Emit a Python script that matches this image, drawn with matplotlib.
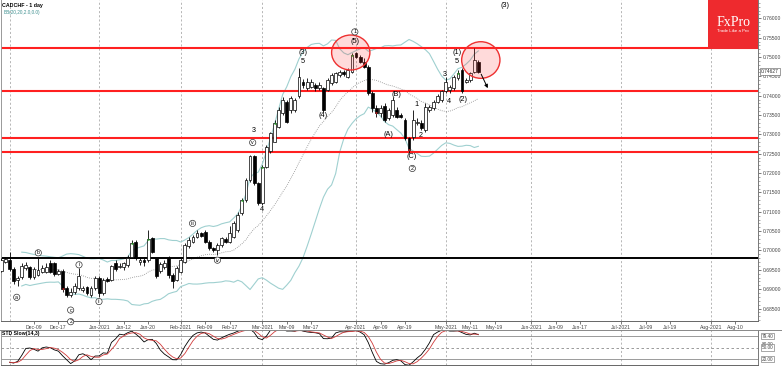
import numpy as np
import pandas as pd
import matplotlib
matplotlib.use("Agg")
import matplotlib.pyplot as plt
from matplotlib.patches import Ellipse, Rectangle
from matplotlib.lines import Line2D

plt.rcParams["font.family"] = ["Liberation Sans", "DejaVu Sans"]

# ---------------- data (daily CADCHF candles, bar index = trading day) ----------------
opens = [
    0.6948, 0.6971, 0.6976, 0.6951, 0.6924, 0.6931, 0.6954, 0.6957, 0.6931, 0.6937,
    0.6945, 0.6945, 0.6967, 0.6967, 0.6939, 0.6948, 0.6902, 0.6885, 0.6894, 0.6902,
    0.6898, 0.6905, 0.6885, 0.6902, 0.6928, 0.6890, 0.6926, 0.6924, 0.6967, 0.6957,
    0.6957, 0.6963, 0.6983, 0.7023, 0.6971, 0.6976, 0.6976, 0.7032, 0.6980, 0.6948,
    0.6957, 0.6980, 0.6937, 0.6924, 0.6945, 0.6971, 0.7012, 0.7023, 0.7034, 0.7044,
    0.7049, 0.7023, 0.7006, 0.7000, 0.7014, 0.7029, 0.7023, 0.7036, 0.7053, 0.7096,
    0.7131, 0.7182, 0.7243, 0.7174, 0.7122, 0.7217, 0.7256, 0.7281, 0.7320, 0.7355,
    0.7385, 0.7363, 0.7363, 0.7398, 0.7436, 0.7419, 0.7423, 0.7428, 0.7419, 0.7419,
    0.7415, 0.7432, 0.7436, 0.7454, 0.7462, 0.7449, 0.7462, 0.7510, 0.7501, 0.7488,
    0.7475, 0.7406, 0.7367, 0.7355, 0.7374, 0.7342, 0.7350, 0.7363, 0.7350, 0.7337,
    0.7290, 0.7294, 0.7329, 0.7329, 0.7312, 0.7363, 0.7367, 0.7385, 0.7389, 0.7411,
    0.7415, 0.7419, 0.7445, 0.7466, 0.7436, 0.7441, 0.7462, 0.7488]
highs = [
    0.6980, 0.6984, 0.6997, 0.6957, 0.6933, 0.6967, 0.6971, 0.6960, 0.6957, 0.6983,
    0.6963, 0.6967, 0.6976, 0.6971, 0.6951, 0.6951, 0.6907, 0.6902, 0.6915, 0.6954,
    0.6907, 0.6908, 0.6907, 0.6933, 0.6934, 0.6928, 0.6931, 0.6963, 0.6976, 0.6967,
    0.6971, 0.6989, 0.7027, 0.7027, 0.6980, 0.6983, 0.7053, 0.7036, 0.6984, 0.6971,
    0.6976, 0.6986, 0.6941, 0.6960, 0.6980, 0.7019, 0.7034, 0.7040, 0.7053, 0.7049,
    0.7053, 0.7027, 0.7010, 0.7019, 0.7036, 0.7034, 0.7062, 0.7075, 0.7100, 0.7135,
    0.7187, 0.7247, 0.7247, 0.7178, 0.7221, 0.7273, 0.7307, 0.7337, 0.7370, 0.7396,
    0.7389, 0.7399, 0.7393, 0.7471, 0.7442, 0.7445, 0.7442, 0.7434, 0.7436, 0.7423,
    0.7445, 0.7458, 0.7462, 0.7466, 0.7466, 0.7471, 0.7511, 0.7514, 0.7505, 0.7497,
    0.7479, 0.7411, 0.7376, 0.7376, 0.7380, 0.7367, 0.7396, 0.7372, 0.7355, 0.7342,
    0.7294, 0.7363, 0.7342, 0.7337, 0.7380, 0.7376, 0.7389, 0.7405, 0.7415, 0.7448,
    0.7428, 0.7454, 0.7466, 0.7471, 0.7445, 0.7462, 0.7522, 0.7492]
lows = [
    0.6945, 0.6967, 0.6948, 0.6914, 0.6908, 0.6927, 0.6950, 0.6927, 0.6926, 0.6933,
    0.6941, 0.6941, 0.6943, 0.6934, 0.6937, 0.6894, 0.6881, 0.6879, 0.6888, 0.6898,
    0.6894, 0.6885, 0.6881, 0.6898, 0.6881, 0.6885, 0.6919, 0.6920, 0.6948, 0.6954,
    0.6950, 0.6958, 0.6980, 0.6976, 0.6963, 0.6960, 0.6971, 0.6993, 0.6928, 0.6941,
    0.6951, 0.6928, 0.6902, 0.6920, 0.6941, 0.6967, 0.7006, 0.7019, 0.7032, 0.7034,
    0.7019, 0.7001, 0.6997, 0.6989, 0.7010, 0.7019, 0.7020, 0.7032, 0.7049, 0.7092,
    0.7126, 0.7178, 0.7169, 0.7118, 0.7118, 0.7213, 0.7251, 0.7281, 0.7316, 0.7350,
    0.7329, 0.7355, 0.7359, 0.7393, 0.7419, 0.7415, 0.7419, 0.7413, 0.7415, 0.7359,
    0.7411, 0.7428, 0.7432, 0.7449, 0.7451, 0.7445, 0.7458, 0.7497, 0.7484, 0.7471,
    0.7402, 0.7359, 0.7346, 0.7346, 0.7333, 0.7337, 0.7346, 0.7342, 0.7342, 0.7286,
    0.7253, 0.7286, 0.7324, 0.7312, 0.7307, 0.7359, 0.7363, 0.7380, 0.7385, 0.7406,
    0.7408, 0.7415, 0.7441, 0.7406, 0.7432, 0.7436, 0.7458, 0.7458]
closes = [
    0.6976, 0.6977, 0.6951, 0.6920, 0.6928, 0.6960, 0.6963, 0.6931, 0.6951, 0.6950,
    0.6954, 0.6957, 0.6945, 0.6939, 0.6948, 0.6900, 0.6885, 0.6894, 0.6907, 0.6933,
    0.6902, 0.6890, 0.6902, 0.6928, 0.6890, 0.6924, 0.6922, 0.6960, 0.6951, 0.6960,
    0.6967, 0.6980, 0.7020, 0.6980, 0.6976, 0.6969, 0.7029, 0.6997, 0.6933, 0.6965,
    0.6967, 0.6937, 0.6920, 0.6954, 0.6976, 0.7014, 0.7027, 0.7034, 0.7044, 0.7037,
    0.7023, 0.7006, 0.7000, 0.7014, 0.7032, 0.7023, 0.7044, 0.7070, 0.7092, 0.7131,
    0.7182, 0.7243, 0.7174, 0.7122, 0.7217, 0.7268, 0.7303, 0.7329, 0.7363, 0.7389,
    0.7333, 0.7393, 0.7389, 0.7449, 0.7428, 0.7436, 0.7436, 0.7419, 0.7428, 0.7363,
    0.7441, 0.7454, 0.7458, 0.7462, 0.7456, 0.7466, 0.7505, 0.7501, 0.7488, 0.7475,
    0.7406, 0.7367, 0.7355, 0.7367, 0.7337, 0.7363, 0.7389, 0.7346, 0.7346, 0.7290,
    0.7260, 0.7337, 0.7333, 0.7316, 0.7372, 0.7372, 0.7385, 0.7398, 0.7411, 0.7436,
    0.7423, 0.7449, 0.7458, 0.7411, 0.7441, 0.7458, 0.7492, 0.7462]

start_date = "2020-11-27"
holidays = ["2020-12-25", "2021-01-01"]
tick_dates = ["2020-12-09", "2020-12-17", "2021-01-04", "2021-01-12", "2021-01-20",
              "2021-02-01", "2021-02-09", "2021-02-17", "2021-03-01", "2021-03-09",
              "2021-03-17", "2021-04-01", "2021-04-09", "2021-04-19", "2021-05-03",
              "2021-05-11", "2021-05-19", "2021-06-01", "2021-06-09", "2021-06-17",
              "2021-07-01", "2021-07-09", "2021-07-19", "2021-08-02", "2021-08-10"]
tick_labels = ["Dec-09", "Dec-17", "Jan-2021", "Jan-12", "Jan-20", "Feb-2021", "Feb-09",
               "Feb-17", "Mar-2021", "Mar-09", "Mar-17", "Apr-2021", "Apr-09", "Apr-19",
               "May-2021", "May-11", "May-19", "Jun-2021", "Jun-09", "Jun-17", "Jul-2021",
               "Jul-09", "Jul-19", "Aug-2021", "Aug-10"]
month_dates = ["2020-12-01", "2021-01-04", "2021-02-01", "2021-03-01", "2021-04-01",
               "2021-05-03", "2021-06-01", "2021-07-01", "2021-08-02"]

red_levels = [0.7524, 0.7411, 0.7291, 0.7255]
black_level = 0.6980
last_price_label = "0.74627"
stoch_levels = [20, 50, 80]
stoch_last_label = "79.40"
buy_marks = [32, 36, 59, 64, 67, 86, 112]
sell_marks = [15, 92, 100]

# wave labels: (text, bar index, price)
wave_labels = [("3", 61.8, 0.7311), ("4", 63.9, 0.7105), ("(3)", 73.9, 0.7511),
               ("5", 73.9, 0.7488), ("(4)", 79.0, 0.7348), ("(5)", 86.7, 0.7540),
               ("(B)", 97.0, 0.7402), ("(A)", 94.9, 0.7301), ("1", 101.9, 0.7376),
               ("2", 102.9, 0.7296), ("(C)", 100.65, 0.7242), ("3", 108.8, 0.7455),
               ("4", 109.8, 0.7384), ("(1)", 111.8, 0.7512), ("5", 111.8, 0.7488),
               ("(2)", 113.2, 0.7389), ("(3)", 123.5, 0.7634)]
circled_labels = [("a", 3.77, 0.6879), ("b", 9.06, 0.6994), ("c", 17.0, 0.6846),
                  ("2", 17.0, 0.6816), ("i", 19.05, 0.6963), ("ii", 23.95, 0.6868),
                  ("iii", 46.9, 0.7070), ("iv", 53.0, 0.6975), ("v", 61.65, 0.7279),
                  ("1", 86.7, 0.7565), ("2", 100.8, 0.7212)]

# ---------------- derived positions ----------------
dates = pd.bdate_range(start_date, "2021-09-30")
dates = dates[~dates.isin(pd.to_datetime(holidays))]
pos_of = {d: i for i, d in enumerate(dates)}
tick_pos = [pos_of[pd.Timestamp(d)] for d in tick_dates]
month_pos = [pos_of[pd.Timestamp(d)] for d in month_dates]

o = np.array(opens); h = np.array(highs); l = np.array(lows); c = np.array(closes)
x = np.arange(len(c))
cs = pd.Series(c)
mid = cs.rolling(20, min_periods=6).mean()
sd = cs.rolling(20, min_periods=6).std(ddof=0)
upper = mid + 2 * sd
lower = mid - 2 * sd
hh = pd.Series(h).rolling(14, min_periods=3).max()
ll = pd.Series(l).rolling(14, min_periods=3).min()
fastk = 100 * (cs - ll) / (hh - ll)
slowk = fastk.rolling(3, min_periods=1).mean()
slowd = slowk.rolling(3, min_periods=1).mean()

# ---------------- figure ----------------
W, H = 782, 366
fig = plt.figure(figsize=(W / 100, H / 100), dpi=100)
fig.patch.set_facecolor("white")

def fx(px):
    return px / W

def fy(py):
    return 1 - py / H

ax = fig.add_axes([fx(1), fy(321), fx(757), 321 / H])
ax2 = fig.add_axes([fx(1), fy(365), fx(757), 35 / H])

ymax_main, ymin_main = 0.76473, 0.68178
ax.set_xlim(-0.085, 185.59)
ax.set_ylim(ymin_main, ymax_main)
ax2.set_xlim(-0.085, 185.59)
ax2.set_ylim(4.35, 95.65)

for a in (ax, ax2):
    for p in month_pos:
        a.axvline(p, color="#9a9a9a", lw=0.5, ls=(0, (3, 3)), zorder=0)
    a.spines["top"].set_visible(False)
    a.spines["left"].set_color("#999999")
    a.spines["right"].set_color("#777777")
    a.spines["bottom"].set_color("#666666")
    for s in a.spines.values():
        s.set_linewidth(0.7)

# bollinger bands
ax.plot(x, upper, color="#9fd0d0", lw=0.8, zorder=1)
ax.plot(x, lower, color="#9fd0d0", lw=0.8, zorder=1)
ax.plot(x, mid, color="#8a8a8a", lw=0.6, ls=(0, (1, 1.5)), zorder=1)

# levels
for lv in red_levels:
    ax.axhline(lv, color="#ff2020", lw=1.5, zorder=2)
ax.axhline(black_level, color="black", lw=1.4, zorder=2)

# candles
hi = np.maximum(h, np.maximum(o, c))
lo = np.minimum(l, np.minimum(o, c))
ax.vlines(x, lo, hi, color="black", lw=0.6, zorder=3)
body_bottom = np.minimum(o, c)
body_h = np.maximum(np.abs(c - o), 0.00006)
colors = ["white" if cc >= oo else "black" for oo, cc in zip(o, c)]
ax.bar(x, body_h, bottom=body_bottom, width=0.7, color=colors,
       edgecolor="black", linewidth=0.5, zorder=4)
ax.scatter(buy_marks, c[buy_marks], marker="^", s=3, color="#1fa01f", zorder=5, linewidths=0)
ax.scatter(sell_marks, c[sell_marks], marker="v", s=3, color="#cc2222", zorder=5, linewidths=0)

# circles
ax.add_patch(Ellipse((85.7, 0.75116), width=9.39, height=0.00904,
                     facecolor=(1, 0.2, 0.2, 0.18), edgecolor="#ee3030", lw=1.0, zorder=6))
ax.add_patch(Ellipse((117.6, 0.74922), width=9.39, height=0.00946,
                     facecolor=(1, 0.2, 0.2, 0.18), edgecolor="#ee3030", lw=1.0, zorder=6))
ax.annotate("", xy=(119.6, 0.7413), xytext=(117.4, 0.7462),
            arrowprops=dict(arrowstyle="-|>", color="black", lw=0.7, mutation_scale=5),
            zorder=7)

# wave labels
for t, xi, yi in wave_labels:
    ax.text(xi, yi, t, fontsize=5.2, ha="center", va="center", color="black", zorder=8)
for t, xi, yi in circled_labels:
    ax.text(xi, yi, t, fontsize=3.8, ha="center", va="center", color="black", zorder=8,
            bbox=dict(boxstyle="circle,pad=0.12", fc="white", ec="#333333", lw=0.5))

# axes ticks
ax.yaxis.tick_right()
yt = np.arange(0.685, 0.76001, 0.005)
ax.set_yticks(yt)
ax.set_yticklabels([f"{v:.5f}" for v in yt])
ax.set_yticks(np.arange(0.682, 0.7646, 0.001), minor=True)
ax.tick_params(axis="y", which="major", labelsize=3.6, length=2.5, width=0.5, pad=1,
               colors="#444444")
ax.tick_params(axis="y", which="minor", length=1.2, width=0.4, colors="#666666")
ax.set_xticks(tick_pos)
ax.set_xticklabels(tick_labels)
ax.tick_params(axis="x", labelsize=3.7, length=2, width=0.5, pad=0.8, colors="#444444")

ax2.set_xticks([])
ax2.set_yticks([])
ax2.axhline(80, color="#8a8a8a", lw=0.6)
ax2.axhline(50, color="#8a8a8a", lw=0.6, ls=(0, (3, 3)))
ax2.axhline(20, color="#8a8a8a", lw=0.6)
ax2.plot(x, slowk, color="black", lw=0.6)
ax2.plot(x, slowd, color="#d03a3a", lw=0.6)

# right side labels in lower panel
lab = dict(fontsize=3.4, color="#444444", ha="left", va="center", zorder=10,
           transform=ax2.get_yaxis_transform())
ax2.text(1.005, 59.1, "80.00", clip_on=False, **lab)
ax2.text(1.005, 50, "50.00", clip_on=False,
         bbox=dict(boxstyle="square,pad=0.15", fc="white", ec="#666666", lw=0.4), **lab)
ax2.text(1.005, 79.4, stoch_last_label, clip_on=False,
         bbox=dict(boxstyle="square,pad=0.15", fc="white", ec="#666666", lw=0.4), **lab)
ax2.text(1.005, 20, "20.00", clip_on=False,
         bbox=dict(boxstyle="square,pad=0.15", fc="white", ec="#666666", lw=0.4), **lab)

ax.text(1.004, float(last_price_label), last_price_label, fontsize=3.5, color="#333333",
        ha="left", va="center", transform=ax.get_yaxis_transform(), clip_on=False, zorder=10,
        bbox=dict(boxstyle="square,pad=0.15", fc="white", ec="#555555", lw=0.4))

# panel separator line across the full width
fig.add_artist(Line2D([0, 1], [fy(329.5), fy(329.5)], color="#888888", lw=0.7))

# titles
fig.text(fx(2), fy(5), "CADCHF - 1 day", fontsize=3.8, fontweight="bold", color="black",
         ha="left", va="center")
fig.text(fx(4), fy(12.7), "BB(20,20,2.0,0.0)", fontsize=3.4, color="#3d8f8f",
         ha="left", va="center")
fig.text(fx(2), fy(334), "STD Slow(14,3)", fontsize=3.7, fontweight="bold", color="black",
         ha="left", va="center")

# logo
fig.add_artist(Rectangle((fx(708), fy(49)), fx(50), 49 / H, transform=fig.transFigure,
                         facecolor="#ee2a2e", edgecolor="none", zorder=20))
fig.text(fx(733.5), fy(22.5), "FxPro", fontsize=10, color="white", ha="center", va="center",
         family="Liberation Serif", zorder=21)
fig.text(fx(733), fy(31), "Trade Like a Pro", fontsize=3.2, color="white", ha="center",
         va="center", zorder=21)

fig.savefig("out.png", dpi=100, facecolor="white")
